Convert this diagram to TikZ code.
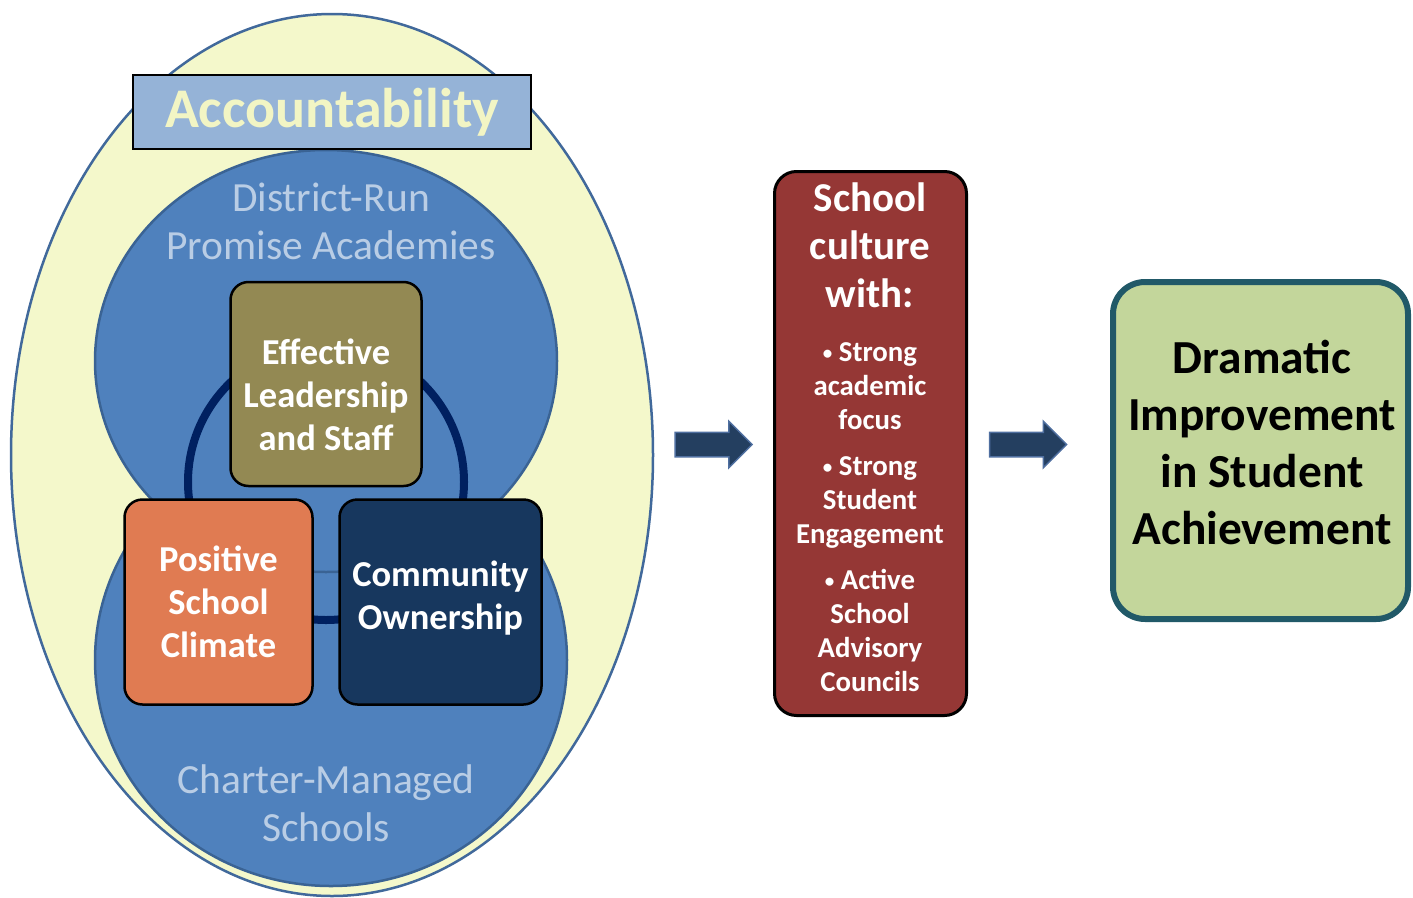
\documentclass[tikz,border=0pt]{standalone}
\usepackage{fontspec}
\setmainfont{Carlito}
\usetikzlibrary{shapes.arrows}
\definecolor{paleyellow}{HTML}{F4F8CB}
\definecolor{ringblue}{HTML}{4F81BD}
\definecolor{ringedge}{HTML}{3A6394}
\definecolor{outeredge}{HTML}{41699B}
\definecolor{acctfill}{HTML}{95B3D7}
\definecolor{accttext}{HTML}{F2F5C4}
\definecolor{lighttext}{HTML}{B9CDE5}
\definecolor{leadfill}{HTML}{938953}
\definecolor{climatefill}{HTML}{E07B52}
\definecolor{ownerfill}{HTML}{17375E}
\definecolor{culturefill}{HTML}{953735}
\definecolor{gainfill}{HTML}{C3D69B}
\definecolor{gainedge}{HTML}{215968}
\definecolor{navyring}{HTML}{002060}
\definecolor{arrowfill}{HTML}{243F60}
\definecolor{arrowedge}{HTML}{4F6FA0}
\newcommand{\smallbullet}{{\fontsize{19}{19}\selectfont\raisebox{1.5pt}{\textbullet}}~}

\begin{document}
\begin{tikzpicture}[x=1pt,y=-1pt,
    circletext/.style={text=lighttext,align=center,font=\fontsize{41.5}{48}\selectfont},
    pillar/.style={draw=black,line width=2.5pt,rounded corners=18pt,inner sep=4pt,text=white,align=center,font=\bfseries\fontsize{36.5}{43}\selectfont},
    culturetext/.style={text=white,align=center,inner sep=0pt},
    blockarrow/.style={single arrow,draw=arrowedge,fill=arrowfill,line width=1.5pt,single arrow head extend=11pt,inner xsep=0pt,inner ysep=11.5pt,minimum height=77pt}]
    \useasboundingbox (0,0) rectangle (1413,897);
    \draw[outeredge,line width=2.5pt,fill=paleyellow](332,455) ellipse [x radius=321pt,y radius=441pt];
    \draw[ringedge,line width=2.5pt,fill=ringblue](331,660) ellipse [x radius=236pt,y radius=226pt];
    \draw[ringedge,line width=2.5pt,fill=ringblue](326,361) ellipse [x radius=231pt,y radius=211pt];
    \draw[navyring,line width=8pt](326,482) circle [radius=138pt];
    \node[draw=black,line width=2pt,fill=acctfill,minimum width=398pt,minimum height=74pt,text=accttext,font=\bfseries\fontsize{56}{60}\selectfont](acct) at (332,112){Accountability};
    \node[circletext](district) at (331,221){District-Run\\Promise Academies};
    \node[circletext](charter) at (326,803){Charter-Managed\\Schools};
    \node[pillar,fill=leadfill,minimum width=191pt,minimum height=204pt](lead) at (326,384){};
    \node[pillar,draw=none,fill=none](leadText) at (326,395){Effective\\Leadership\\and Staff};
    \node[pillar,fill=climatefill,minimum width=188pt,minimum height=205pt](climate) at (218.5,602){Positive\\School\\Climate};
    \node[pillar,fill=ownerfill,minimum width=202pt,minimum height=205pt](owner) at (440.5,602){};
    \node[pillar,draw=none,fill=none](ownerText) at (440.5,598){Community\\Ownership};
    \node[blockarrow](arrowA) at (707.5,444.5){};
    \node[draw=black,line width=3pt,rounded corners=22pt,fill=culturefill,minimum width=192pt,minimum height=544pt](culture) at (870.5,443.5){};
    \node[culturetext,font=\bfseries\fontsize{41}{48}\selectfont](cultureHead) at (870,245){School\\culture\\with:};
    \node[culturetext,font=\bfseries\fontsize{28.8}{34}\selectfont](focus) at (870,386){\smallbullet Strong\\academic\\focus};
    \node[culturetext,font=\bfseries\fontsize{28.8}{34}\selectfont](engage) at (870,502){\smallbullet Strong\\Student\\Engagement};
    \node[culturetext,font=\bfseries\fontsize{28.8}{34}\selectfont](council) at (870,630){\smallbullet Active\\School\\Advisory\\Councils};
    \node[blockarrow](arrowB) at (1022,444.5){};
    \node[draw=gainedge,line width=6pt,rounded corners=32pt,fill=gainfill,minimum width=295pt,minimum height=337pt](gain) at (1260.5,450.5){};
    \node[align=center,font=\bfseries\fontsize{47.4}{57}\selectfont](gainText) at (1262,443){Dramatic\\Improvement\\in Student\\Achievement};
\end{tikzpicture}
\end{document}
